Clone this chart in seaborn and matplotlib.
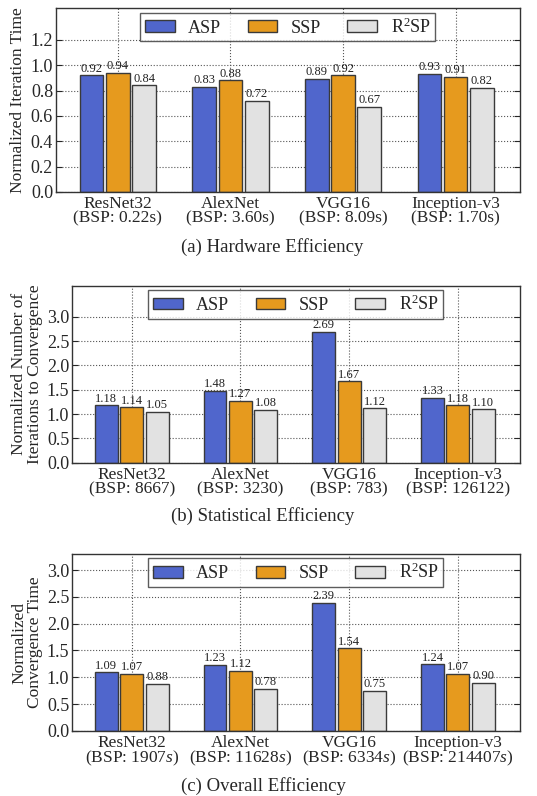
import seaborn as sns
import matplotlib.pyplot as plt
import pandas as pd

models = ['ResNet32', 'AlexNet', 'VGG16', 'Inception-v3']
methods = ['ASP', 'SSP', 'R$^2$SP']

bsp_time = ['0.22s', '3.60s', '8.09s', '1.70s']
bsp_iters = ['8667', '3230', '783', '126122']
bsp_conv = ['1907$s$', '11628$s$', '6334$s$', '214407$s$']

hw_asp = [0.92, 0.83, 0.89, 0.93]
hw_ssp = [0.94, 0.88, 0.92, 0.91]
hw_r2sp = [0.84, 0.72, 0.67, 0.82]

st_asp = [1.18, 1.48, 2.69, 1.33]
st_ssp = [1.14, 1.27, 1.67, 1.18]
st_r2sp = [1.05, 1.08, 1.12, 1.10]

ov_asp = [1.09, 1.23, 2.39, 1.24]
ov_ssp = [1.07, 1.12, 1.54, 1.07]
ov_r2sp = [0.88, 0.78, 0.75, 0.90]

colors = ['#5066cc', '#e69a1e', '#e2e2e2']

sns.set_style('white')
plt.rcParams['font.family'] = ['Liberation Serif', 'DejaVu Serif']
plt.rcParams['mathtext.fontset'] = 'custom'
plt.rcParams['mathtext.rm'] = 'Liberation Serif'
plt.rcParams['mathtext.it'] = 'Liberation Serif:italic'


def make_df(asp, ssp, r2sp):
    rows = []
    for vals, m in zip([asp, ssp, r2sp], methods):
        for model, v in zip(models, vals):
            rows.append({'model': model, 'method': m, 'value': v})
    return pd.DataFrame(rows)


def graph_panel(ax, df, bsp, ylim, yticks, ylabel):
    sns.barplot(data=df, x='model', y='value', hue='method', palette=colors,
                width=0.7, gap=0.1, edgecolor='#3a3a3a', linewidth=1.0,
                saturation=1, ax=ax)
    for c in ax.containers:
        ax.bar_label(c, fmt='%.2f', fontsize=9, padding=0.5, color='#222222')
    ax.set_xlim(-0.55, 3.57)
    ax.set_ylim(*ylim)
    ax.set_yticks(yticks)
    ax.set_yticklabels([f'{t:.1f}' for t in yticks], fontsize=13)
    ax.set_xticks(range(len(models)))
    ax.set_xticklabels([f'{m}\n(BSP: {b})' for m, b in zip(models, bsp)],
                       fontsize=12.5, linespacing=0.85)
    ax.set_xlabel('')
    ax.set_ylabel(ylabel, fontsize=12.5, linespacing=0.95, labelpad=3)
    ax.grid(True, linestyle=':', color='#555555', linewidth=0.8)
    ax.set_axisbelow(True)
    ax.tick_params(axis='y', direction='in', length=4, left=True, right=True, pad=2)
    ax.tick_params(axis='x', length=0, pad=3)
    for s in ax.spines.values():
        s.set_color('#333333')
        s.set_linewidth(1.0)
    ax.legend(loc='upper center', ncol=3, fontsize=13, frameon=True,
              fancybox=False, edgecolor='#333333', handlelength=1.65,
              handleheight=0.6, handletextpad=0.75, columnspacing=1.45,
              borderaxespad=0.25, borderpad=0.25).get_frame().set_linewidth(1.0)


fig = plt.figure(figsize=(5.37, 7.96), dpi=100)

ax1 = fig.add_axes([0.104, 0.7588, 0.864, 0.231])
graph_panel(ax1, make_df(hw_asp, hw_ssp, hw_r2sp), bsp_time, (0, 1.45),
            [0.0, 0.2, 0.4, 0.6, 0.8, 1.0, 1.2], 'Normalized Iteration Time')
fig.text(0.506, 0.690, '(a) Hardware Efficiency', ha='center', va='center', fontsize=13.5)

ax2 = fig.add_axes([0.134, 0.4187, 0.834, 0.2224])
graph_panel(ax2, make_df(st_asp, st_ssp, st_r2sp), bsp_iters, (0, 3.64),
            [0.0, 0.5, 1.0, 1.5, 2.0, 2.5, 3.0],
            'Normalized Number of\nIterations to Convergence')
fig.text(0.49, 0.352, '(b) Statistical Efficiency', ha='center', va='center', fontsize=13.5)

ax3 = fig.add_axes([0.134, 0.0817, 0.834, 0.2224])
graph_panel(ax3, make_df(ov_asp, ov_ssp, ov_r2sp), bsp_conv, (0, 3.3),
            [0.0, 0.5, 1.0, 1.5, 2.0, 2.5, 3.0],
            'Normalized\nConvergence Time')
fig.text(0.49, 0.013, '(c) Overall Efficiency', ha='center', va='center', fontsize=13.5)

fig.savefig('out.png', dpi=100)
